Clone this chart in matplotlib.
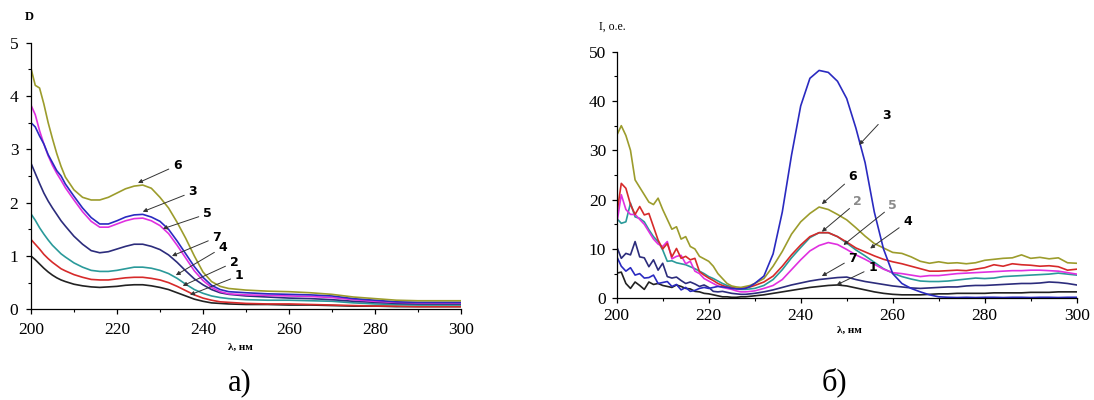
import numpy as np
import matplotlib
matplotlib.use('Agg')
import matplotlib.pyplot as plt
from matplotlib.ticker import MultipleLocator

plt.rcParams['font.family'] = ['Liberation Serif', 'DejaVu Serif']

# ---- а) absorption spectra, D ----
wl_abs = [200, 201, 202, 203, 204, 205, 206, 207, 208, 210, 212, 214, 216, 218, 220, 222, 224, 226, 228,
	230, 232, 234, 236, 238, 240, 242, 244, 246, 250, 255, 260, 265, 270, 275, 280, 285, 290, 300]

d_1 = [1.0, 0.93, 0.85, 0.77, 0.7, 0.64, 0.59, 0.55, 0.52, 0.47, 0.44, 0.42, 0.41, 0.42, 0.43, 0.45, 0.46, 0.46, 0.44,
	0.41, 0.37, 0.31, 0.25, 0.19, 0.15, 0.12, 0.11, 0.1, 0.09, 0.09, 0.08, 0.08, 0.07, 0.06, 0.06, 0.05, 0.05, 0.05]
d_2 = [1.31, 1.22, 1.13, 1.03, 0.95, 0.88, 0.82, 0.76, 0.72, 0.65, 0.6, 0.56, 0.55, 0.55, 0.57, 0.59, 0.6, 0.6, 0.58,
	0.55, 0.5, 0.43, 0.35, 0.27, 0.21, 0.17, 0.14, 0.13, 0.11, 0.1, 0.1, 0.09, 0.08, 0.07, 0.06, 0.06, 0.05, 0.05]
d_3 = [3.5, 3.42, 3.25, 3.1, 2.9, 2.75, 2.6, 2.5, 2.35, 2.12, 1.9, 1.72, 1.6, 1.6, 1.66, 1.73, 1.77, 1.78, 1.73,
	1.65, 1.5, 1.28, 1.04, 0.8, 0.6, 0.45, 0.37, 0.33, 0.31, 0.29, 0.28, 0.27, 0.25, 0.2, 0.17, 0.14, 0.13, 0.13]
d_4 = [1.79, 1.67, 1.53, 1.41, 1.3, 1.2, 1.12, 1.04, 0.98, 0.87, 0.79, 0.73, 0.71, 0.71, 0.73, 0.76, 0.79, 0.79, 0.77,
	0.73, 0.67, 0.58, 0.47, 0.37, 0.3, 0.25, 0.22, 0.2, 0.18, 0.17, 0.17, 0.16, 0.15, 0.12, 0.1, 0.09, 0.08, 0.08]
d_5 = [3.83, 3.65, 3.35, 3.1, 2.88, 2.7, 2.55, 2.42, 2.28, 2.05, 1.83, 1.65, 1.54, 1.54, 1.6, 1.66, 1.7, 1.71, 1.66,
	1.57, 1.42, 1.2, 0.96, 0.72, 0.54, 0.41, 0.33, 0.29, 0.27, 0.26, 0.25, 0.24, 0.22, 0.18, 0.15, 0.13, 0.12, 0.12]
d_6 = [4.52, 4.2, 4.15, 3.85, 3.5, 3.2, 2.92, 2.68, 2.48, 2.24, 2.1, 2.05, 2.05, 2.1, 2.18, 2.26, 2.31, 2.33, 2.27,
	2.1, 1.9, 1.63, 1.33, 1.0, 0.7, 0.52, 0.43, 0.39, 0.36, 0.34, 0.33, 0.31, 0.28, 0.23, 0.2, 0.17, 0.16, 0.16]
d_7 = [2.74, 2.55, 2.36, 2.18, 2.03, 1.9, 1.78, 1.66, 1.56, 1.37, 1.22, 1.1, 1.06, 1.08, 1.13, 1.18, 1.22, 1.22, 1.18,
	1.12, 1.02, 0.88, 0.72, 0.57, 0.46, 0.37, 0.31, 0.28, 0.25, 0.23, 0.21, 0.2, 0.18, 0.15, 0.13, 0.11, 0.1, 0.1]

# ---- б) emission spectra, I ----
wl_em = list(range(200, 231)) + list(range(232, 301, 2))

i_1 = [5.1, 5.3, 3.0, 2.0, 3.3, 2.6, 1.8, 3.3, 2.8, 3.0, 2.6, 2.4, 2.2, 2.7, 2.4, 2.0, 1.9, 1.4, 1.3, 1.0, 0.9,
	0.7, 0.5, 0.3, 0.3, 0.2, 0.2, 0.3, 0.3, 0.4, 0.5,
	0.7, 1.0, 1.3, 1.6, 1.9, 2.2, 2.4, 2.6, 2.7, 2.5, 2.1, 1.7, 1.3, 1.0, 0.8,
	0.7, 0.7, 0.7, 0.8, 0.9, 0.9, 1.0, 1.0, 1.0, 1.0, 1.1, 1.1, 1.1, 1.1, 1.2, 1.2, 1.2, 1.3, 1.3, 1.3]
i_2 = [17.0, 23.3, 22.3, 19.0, 17.0, 18.6, 16.9, 17.2, 14.5, 11.8, 10.0, 11.1, 8.4, 10.1, 8.1, 8.5, 7.8, 8.1, 5.4, 4.7, 4.1,
	3.6, 3.0, 2.6, 2.3, 2.1, 2.0, 2.0, 2.1, 2.3, 2.6,
	3.3, 4.5, 6.5, 8.8, 10.8, 12.5, 13.3, 13.3, 12.5, 11.4, 10.2, 9.4, 8.6, 7.9, 7.4,
	7.0, 6.5, 6.0, 5.5, 5.5, 5.6, 5.7, 5.6, 5.9, 6.2, 6.8, 6.5, 7.0, 6.8, 6.7, 6.5, 6.6, 6.4, 5.7, 5.9]
i_3 = [8.5, 6.5, 5.5, 6.2, 4.7, 5.0, 4.1, 4.2, 4.7, 3.0, 3.2, 3.4, 2.4, 2.8, 1.7, 2.2, 1.4, 1.6, 2.0, 2.2, 2.0,
	2.2, 2.4, 2.3, 2.2, 2.0, 1.9, 1.9, 2.0, 2.4, 3.0,
	4.5, 9.0, 17.5, 29.0, 39.0, 44.6, 46.2, 45.8, 44.0, 40.5, 34.5, 27.5, 17.5, 10.0, 5.0,
	3.0, 2.0, 1.3, 0.7, 0.3, 0.2, 0.15, 0.2, 0.15, 0.2, 0.2, 0.15, 0.2, 0.2, 0.15, 0.2, 0.2, 0.15, 0.2, 0.2]
i_4 = [16.2, 15.2, 15.5, 19.3, 16.5, 16.2, 15.5, 13.9, 12.5, 11.5, 9.8, 7.5, 7.6, 7.2, 7.0, 6.8, 6.4, 6.0, 5.5, 5.0, 4.4,
	4.0, 3.5, 3.0, 2.6, 2.3, 2.0, 1.8, 1.8, 1.9, 2.0,
	2.6, 3.8, 5.8, 8.2, 10.3, 12.3, 13.3, 13.3, 12.5, 11.2, 9.8, 8.6, 7.3, 6.0, 5.1,
	4.4, 3.9, 3.5, 3.4, 3.4, 3.5, 3.7, 3.9, 4.1, 4.0, 4.1, 4.4, 4.5, 4.6, 4.7, 4.8, 4.9, 5.1, 4.9, 4.7]
i_5 = [15.0, 21.0, 18.0, 17.0, 17.0, 16.0, 15.0, 13.5, 12.0, 11.0, 10.5, 11.5, 8.0, 8.5, 8.7, 7.0, 7.5, 5.5, 5.0, 4.0, 3.5,
	3.0, 2.5, 2.2, 2.0, 1.8, 1.5, 1.3, 1.3, 1.4, 1.5,
	2.0, 2.6, 3.8, 5.8, 7.8, 9.6, 10.7, 11.3, 10.9, 9.9, 8.8, 7.9, 6.9, 5.9, 5.2,
	5.0, 4.7, 4.4, 4.6, 4.6, 4.8, 5.0, 5.1, 5.2, 5.3, 5.4, 5.5, 5.6, 5.6, 5.7, 5.7, 5.6, 5.5, 5.2, 4.9]
i_6 = [33.0, 35.0, 33.0, 30.0, 24.0, 22.5, 21.0, 19.5, 19.0, 20.3, 18.0, 16.0, 14.0, 14.5, 12.0, 12.5, 10.5, 10.0, 8.5, 8.0, 7.5,
	6.5, 5.0, 4.0, 3.0, 2.5, 2.3, 2.2, 2.4, 2.6, 3.0,
	4.0, 6.5, 9.5, 13.0, 15.5, 17.2, 18.5, 18.0, 17.0, 15.9, 14.3, 12.6, 11.1, 10.2, 9.3,
	9.1, 8.4, 7.5, 7.1, 7.4, 7.1, 7.2, 7.0, 7.2, 7.7, 7.9, 8.1, 8.2, 8.8, 8.1, 8.3, 8.0, 8.2, 7.2, 7.1]
i_7 = [10.5, 8.1, 9.1, 8.8, 11.5, 8.4, 8.2, 6.4, 7.8, 5.7, 7.1, 4.4, 4.1, 4.3, 3.6, 3.0, 3.3, 2.9, 2.4, 2.7, 2.2,
	1.4, 1.3, 1.4, 1.2, 1.0, 0.9, 0.8, 0.8, 0.9, 1.0,
	1.3, 1.7, 2.2, 2.7, 3.1, 3.5, 3.8, 4.0, 4.2, 4.3, 3.8, 3.4, 3.1, 2.8, 2.5,
	2.3, 2.1, 2.0, 2.1, 2.2, 2.3, 2.3, 2.5, 2.6, 2.6, 2.7, 2.8, 2.9, 3.0, 3.0, 3.1, 3.3, 3.2, 3.0, 2.7]

# номер кривой -> цвет
colors = {1: '#222222', 2: '#d62a2a', 3: '#2a2ac0', 4: '#2a9a9a', 5: '#e030e0', 6: '#9c9c2c', 7: '#2c2c7c'}

# подписи кривых: (номер, точка на кривой, положение текста, цвет текста)
labels_abs = [(6, (224.9, 2.37), (234.0, 2.70), 'black'),
	(3, (226.0, 1.83), (237.6, 2.20), 'black'),
	(5, (230.7, 1.51), (241.0, 1.79), 'black'),
	(7, (232.8, 1.00), (243.2, 1.35), 'black'),
	(4, (233.7, 0.64), (244.6, 1.16), 'black'),
	(2, (235.3, 0.44), (247.2, 0.88), 'black'),
	(1, (237.0, 0.27), (248.4, 0.63), 'black')]
labels_em = [(3, (252.7, 31.1), (258.6, 37.0), 'black'),
	(6, (244.6, 19.1), (251.3, 24.6), 'black'),
	(2, (244.6, 13.5), (252.4, 19.6), '#8a8a8a'),
	(5, (249.3, 10.8), (260.0, 18.8), '#8a8a8a'),
	(4, (255.1, 10.1), (263.2, 15.5), 'black'),
	(7, (244.6, 4.5), (251.3, 8.1), 'black'),
	(1, (247.8, 2.7), (255.6, 6.2), 'black')]


def style_axes(ax, ymax, ymajor, yminor, xpad, ypad):
	ax.set_xlim(200, 300)
	ax.set_ylim(0, ymax)
	ax.spines['top'].set_visible(False)
	ax.spines['right'].set_visible(False)
	ax.spines['left'].set_linewidth(0.9)
	ax.spines['bottom'].set_linewidth(0.9)
	ax.xaxis.set_major_locator(MultipleLocator(20))
	ax.xaxis.set_minor_locator(MultipleLocator(10))
	ax.yaxis.set_major_locator(MultipleLocator(ymajor))
	ax.yaxis.set_minor_locator(MultipleLocator(yminor))
	ax.tick_params(which='major', direction='out', length=3.5, width=0.9, labelsize=12.5)
	ax.tick_params(which='minor', direction='out', length=2.2, width=0.8)
	ax.tick_params(axis='x', which='major', pad=xpad)
	ax.tick_params(axis='y', which='major', pad=ypad)


def add_labels(ax, labels):
	for num, tip, txt, col in labels:
		ax.annotate(str(num), xy=tip, xytext=txt, ha='center', va='center',
			fontsize=9, fontweight='bold', color=col, family='DejaVu Sans',
			arrowprops=dict(arrowstyle='-|>', color='#333333', lw=0.7, mutation_scale=6, shrinkA=1, shrinkB=0))


def plot_spectra():
	fig = plt.figure(figsize=(10.94, 4.0), dpi=100)

	# а) поглощение
	ax1 = fig.add_axes([0.0283, 0.2268, 0.393, 0.6665])
	for num, d in [(1, d_1), (2, d_2), (4, d_4), (7, d_7), (5, d_5), (3, d_3), (6, d_6)]:
		ax1.plot(wl_abs, d, color=colors[num], linewidth=1.2)
	style_axes(ax1, 5, 1, 0.5, 6, 5.5)
	add_labels(ax1, labels_abs)
	fig.text(0.027, 0.957, 'D', fontsize=9, fontweight='bold', ha='center', va='center')
	fig.text(0.22, 0.133, 'λ, нм', fontsize=8, fontweight='bold', ha='center', va='center')
	fig.text(0.219, 0.043, 'а)', fontsize=22, ha='center', va='center')

	# б) флуоресценция
	ax2 = fig.add_axes([0.5637, 0.2543, 0.4205, 0.6165])
	for num, i in [(1, i_1), (7, i_7), (4, i_4), (5, i_5), (2, i_2), (6, i_6), (3, i_3)]:
		ax2.plot(wl_em, i, color=colors[num], linewidth=1.2)
	style_axes(ax2, 50, 10, 5, 3.5, 4)
	add_labels(ax2, labels_em)
	fig.text(0.56, 0.932, 'I, о.е.', fontsize=8.5, ha='center', va='center')
	fig.text(0.776, 0.175, 'λ, нм', fontsize=8, fontweight='bold', ha='center', va='center')
	fig.text(0.763, 0.043, 'б)', fontsize=22, ha='center', va='center')

	plt.savefig('out.png', dpi=100)


if __name__ == '__main__':
	plot_spectra()
